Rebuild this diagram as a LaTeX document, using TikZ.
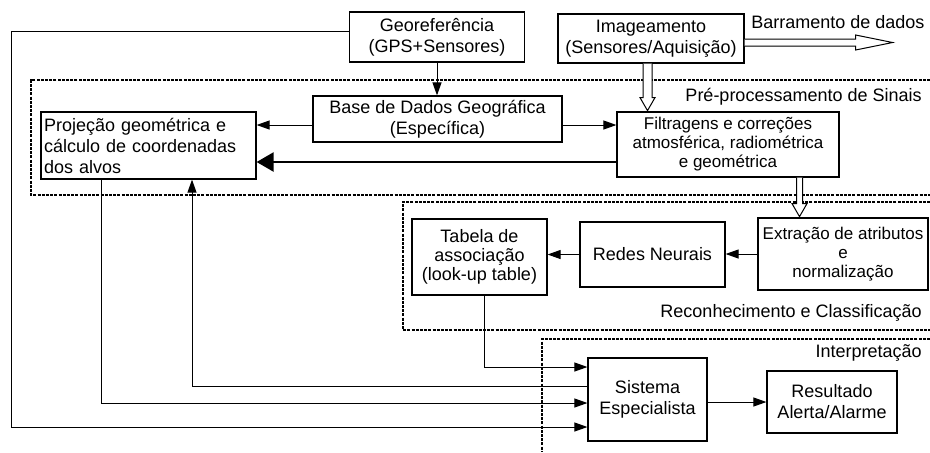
\documentclass[tikz,border=0pt]{standalone}
\usepackage{fontspec}
\setmainfont{Liberation Sans}
\usetikzlibrary{arrows.meta}

\tikzstyle{block}=[draw,line width=0.6pt,inner sep=0pt,align=center,font=\fontsize{9}{10.5}\selectfont]
\tikzstyle{small}=[font=\fontsize{8.5}{9.5}\selectfont]
\tikzstyle{lbl}=[inner sep=0pt,font=\fontsize{9}{11}\selectfont]
\tikzstyle{arr}=[line width=0.5pt,-{Triangle[length=6.5pt,width=4.5pt]}]
\tikzstyle{bigarr}=[line width=1.2pt,-{Triangle[length=8.5pt,width=9.5pt]}]
\tikzstyle{hollow}=[draw,fill=white,line width=0.5pt]
\tikzstyle{region}=[line width=1.3pt,dash pattern=on 1.5pt off 0.6pt]

\begin{document}
\begin{tikzpicture}[x=0.5pt,y=-0.5pt]
    \useasboundingbox (0,0) rectangle (930,452);

    % regions
    \draw[region] (930,80) -- (31,80) -- (31,195) -- (930,195);
    \draw[region] (930,202) -- (403,202) -- (403,330) -- (930,330);
    \draw[region] (930,339) -- (542,339) -- (542,452);

    \node[lbl,anchor=west] (bus) at (751,22) {Barramento de dados};
    \node[lbl,anchor=east] (pre) at (922,97) {Pré-processamento de Sinais};
    \node[lbl,anchor=east] (rec) at (922,313) {Reconhecimento e Classificação};
    \node[lbl,anchor=east] (int) at (922,353) {Interpretação};

    \node[block,minimum width=87.5pt,minimum height=25pt] (geo) at (437,37) {Georeferência\\(GPS+Sensores)};
    \node[block,minimum width=93pt,minimum height=24.5pt] (img) at (651,38.5) {Imageamento\\(Sensores/Aquisição)};
    \node[block,minimum width=124.5pt,minimum height=23pt] (base) at (437.5,119) {Base de Dados Geográfica\\(Específica)};
    \node[block,align=left,inner sep=1.5pt,text width=104.5pt,minimum height=33.5pt] (proj) at (148.5,145.5) {Projeção geométrica e\\cálculo de coordenadas\\dos alvos};
    \node[block,small,minimum width=111pt,minimum height=32.5pt] (filt) at (728,144.5) {Filtragens e correções\\atmosférica, radiométrica\\e geométrica};
    \node[block,font=\fontsize{9}{9.5}\selectfont,minimum width=67.5pt,minimum height=38pt] (tab) at (479.5,257) {Tabela de\\associação\\(look-up table)};
    \node[block,minimum width=72.5pt,minimum height=32.5pt] (redes) at (652.5,254.5) {Redes Neurais};
    \node[block,small,minimum width=85pt,minimum height=36pt] (extr) at (843,254) {Extração de atributos\\e\\normalização};
    \node[block,minimum width=59.5pt,minimum height=41.5pt] (sist) at (647.5,399.5) {Sistema\\Especialista};
    \node[block,minimum width=65pt,minimum height=31pt] (res) at (832,402) {Resultado\\Alerta/Alarme};

    \draw[arr] (geo.south) -- (geo.south |- base.north);
    \draw[arr] ([yshift=-3pt]base.west) -- ([yshift=-3pt]base.west -| proj.east);
    \draw[arr] ([yshift=-3pt]base.east) -- ([yshift=-3pt]base.east -| filt.west);
    \draw[bigarr] ([yshift=-8.75pt]filt.west) -- ([yshift=-8.75pt]filt.west -| proj.east);

    \draw[hollow] ([xshift=-1.75pt]img.south) ++(-4.5,0) -- ++(0,34) -- ++(-3,0) -- ++(7.5,13) -- ++(7.5,-13) -- ++(-3,0) -- ++(0,-34);
    \draw[hollow] ([xshift=35.75pt]filt.south) ++(-3,0) -- ++(0,26) -- ++(-4.5,0) -- ++(7.5,13) -- ++(7.5,-13) -- ++(-4.5,0) -- ++(0,-26);
    \draw[hollow] ([yshift=-0.25pt]img.east) -- ++(111,0) -- ++(0,-4) -- ++(37,7.5) -- ++(-37,7.5) -- ++(0,-4) -- ++(-111,0);

    \draw[arr] (extr.west) -- (extr.west -| redes.east);
    \draw[arr] (redes.west) -- (redes.west -| tab.east);
    \draw[arr] (sist.east |- res.west) -- (res.west);

    \coordinate (corner) at (11,427);
    \draw[arr] ([yshift=3pt]geo.west) -| (corner) -- (corner -| sist.west);
    \draw[arr] ([xshift=-23.75pt]proj.south) |- ([yshift=-1.75pt]sist.west);
    \draw[arr] ([yshift=6.75pt]sist.west) -| ([xshift=21.75pt]proj.south);
    \draw[arr] ([xshift=2.25pt]tab.south) |- ([yshift=16.25pt]sist.west);

\end{tikzpicture}
\end{document}
